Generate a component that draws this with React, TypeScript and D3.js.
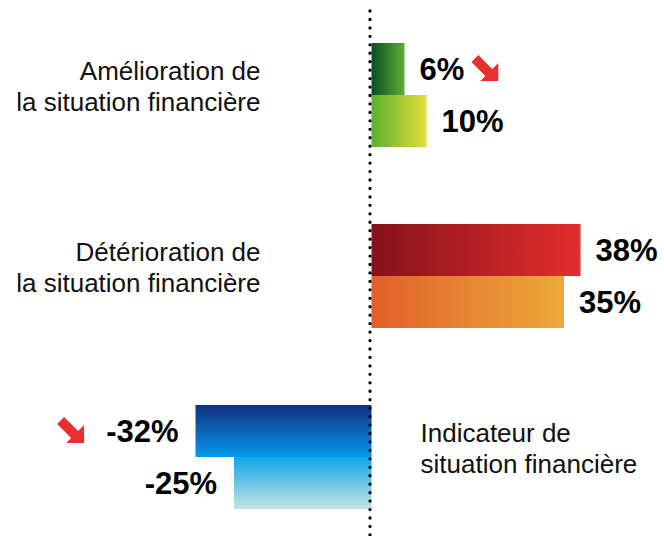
import React, { useEffect, useRef } from 'react';
import * as d3 from 'd3';

const categories = ['amelioration', 'deterioration', 'indicateur'];
const categoryLines = [
  ['Amélioration de', 'la situation financière'],
  ['Détérioration de', 'la situation financière'],
  ['Indicateur de', 'situation financière'],
];
const seriesKeys = ['current', 'previous'];
const currentValues = [6, 38, -32];
const previousValues = [10, 35, -25];
const significantDrop = [true, false, true];

const currentGradients = [
  ['#0b4d26', '#5cb02f'],
  ['#861219', '#e42d2d'],
  ['#11307c', '#0598ee'],
];
const previousGradients = [
  ['#5ab030', '#e4dd3a'],
  ['#e1602a', '#ecaa3b'],
  ['#10a6e8', '#c4e4e6'],
];
const verticalGradient = [false, false, true];

const W = 664;
const H = 536;
const FONT = 'Liberation Sans, Arial, Helvetica, sans-serif';

export default function App() {
  const ref = useRef<SVGSVGElement>(null);

  useEffect(() => {
    const svg = d3.select(ref.current);
    svg.selectAll('*').remove();

    const x = d3.scaleLinear().domain([-32, 38]).range([195.5, 580.5]);
    const y = d3.scaleBand().domain(categories).range([43, 509]).paddingInner(0.4254).paddingOuter(0);
    const ySub = d3.scaleBand().domain(seriesKeys).range([0, y.bandwidth()]);
    const x0 = x(0);

    const defs = svg.append('defs');
    const rows = categories.map((c, i) => ({
      cat: c,
      i,
      values: [currentValues[i], previousValues[i]],
      grads: [currentGradients[i], previousGradients[i]],
    }));

    rows.forEach((r) => {
      r.grads.forEach((g, k) => {
        const lg = defs.append('linearGradient')
          .attr('id', `g-${r.i}-${k}`)
          .attr('x1', 0).attr('y1', 0)
          .attr('x2', verticalGradient[r.i] ? 0 : 1)
          .attr('y2', verticalGradient[r.i] ? 1 : 0);
        lg.append('stop').attr('offset', '0%').attr('stop-color', g[0]);
        lg.append('stop').attr('offset', '100%').attr('stop-color', g[1]);
      });
    });

    rows.forEach((r) => {
      const gy = y(r.cat)!;
      r.values.forEach((v, k) => {
        const by = gy + ySub(seriesKeys[k])!;
        svg.append('rect')
          .attr('x', Math.min(x(v), x0))
          .attr('y', by)
          .attr('width', Math.abs(x(v) - x0))
          .attr('height', ySub.bandwidth())
          .attr('fill', `url(#g-${r.i}-${k})`);
        const cy = by + ySub.bandwidth() / 2;
        const t = svg.append('text')
          .attr('x', v >= 0 ? x(v) + 15 : x(v) - 17)
          .attr('y', cy + 11)
          .attr('text-anchor', v >= 0 ? 'start' : 'end')
          .attr('font-family', FONT)
          .attr('font-size', 31)
          .attr('font-weight', 'bold')
          .attr('fill', '#000')
          .text(`${v}%`);
        if (k === 0 && significantDrop[r.i]) {
          const bb = (t.node() as SVGTextElement).getBBox();
          const ax = v >= 0 ? bb.x + bb.width + 7 : bb.x - 22 - 27;
          const ay = cy - 14;
          svg.append('path')
            .attr('transform', `translate(${ax},${ay})`)
            .attr('d', 'M7,0 L21,14 L27,8 L27,26 L9,26 L14,21 L0,7 Z')
            .attr('fill', '#e8302e');
        }
      });

      const cyc = gy + y.bandwidth() / 2;
      const positive = r.values[0] >= 0;
      const lbl = svg.append('text')
        .attr('text-anchor', positive ? 'end' : 'start')
        .attr('font-family', FONT)
        .attr('font-size', 26)
        .attr('fill', '#111');
      categoryLines[r.i].forEach((line, li) => {
        lbl.append('tspan')
          .attr('x', positive ? x0 - 111 : x0 + 49)
          .attr('y', cyc - 15 + li * 31)
          .text(line);
      });
    });

    svg.append('line')
      .attr('x1', x0 - 1.5).attr('x2', x0 - 1.5)
      .attr('y1', 11).attr('y2', H + 10)
      .attr('stroke', '#000')
      .attr('stroke-width', 3.3)
      .attr('stroke-linecap', 'round')
      .attr('stroke-dasharray', '0 8.45');
  }, []);

  return (
    <svg
      ref={ref}
      width={W}
      height={H}
      style={{ position: 'absolute', left: 0, top: 0, background: '#fff', display: 'block' }}
    />
  );
}
